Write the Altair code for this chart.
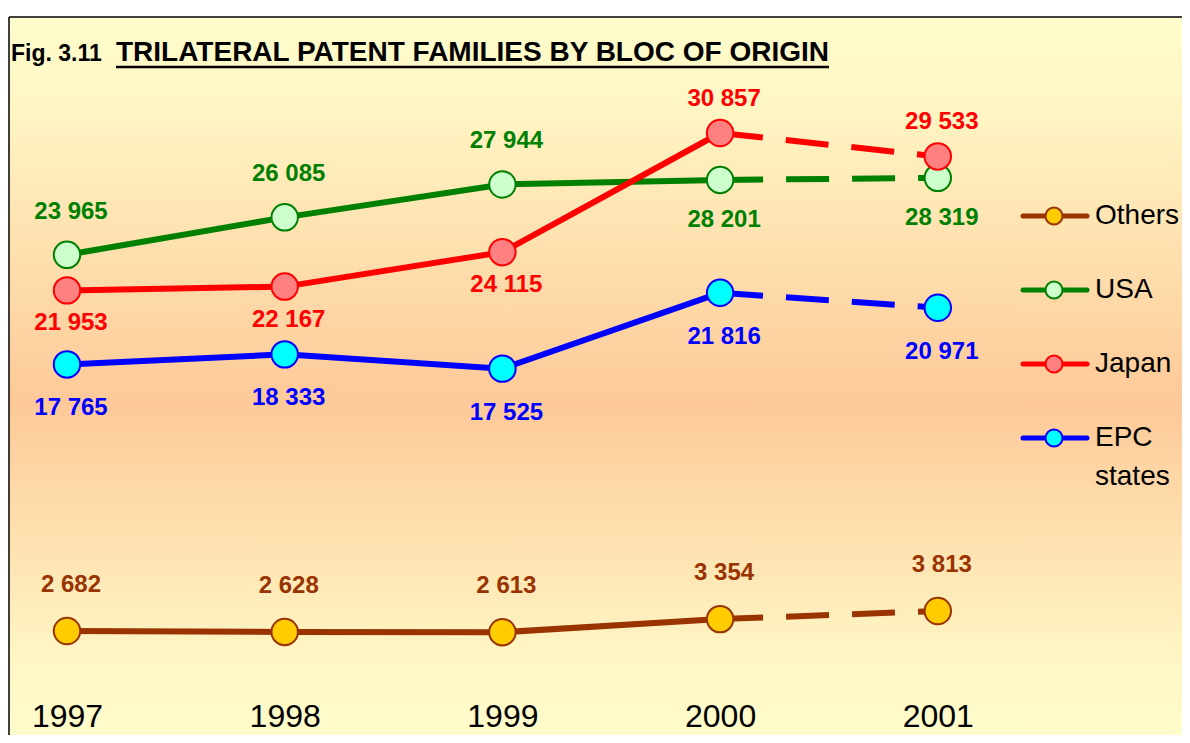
import altair as alt
import pandas as pd

# ---------------- data ----------------
years = [1997, 1998, 1999, 2000, 2001]
series = ["Others", "USA", "Japan", "EPC states"]
others = [2682, 2628, 2613, 3354, 3813]
usa = [23965, 26085, 27944, 28201, 28319]
japan = [21953, 22167, 24115, 30857, 29533]
epc = [17765, 18333, 17525, 21816, 20971]

line_colors = ["#993300", "#008000", "#FF0000", "#0000FF"]
fill_colors = ["#FFCC00", "#CCFFCC", "#FF8080", "#00FFFF"]

# label placement (True = label under the marker)
label_below = {
    "Others": [False, False, False, False, False],
    "USA": [False, False, False, True, True],
    "Japan": [True, True, True, False, False],
    "EPC states": [True, True, True, True, True],
}
# vertical label offsets in px: (series, below) -> dy
label_dy = {
    ("Others", False): -46,
    ("USA", False): -43,
    ("USA", True): 40,
    ("Japan", False): -34,
    ("Japan", True): 33,
    ("EPC states", True): 44,
}

values = {"Others": others, "USA": usa, "Japan": japan, "EPC states": epc}
rows = []
for s in series:
    for i, yr in enumerate(years):
        rows.append({"series": s, "year": yr, "value": values[s][i],
                     "below": label_below[s][i]})
df = pd.DataFrame(rows)

FONT = "Liberation Sans"
W, H = 1174, 690
BOTTOM = 37

x_scale = alt.Scale(domain=[1997 - 59 / 217.7, 1997 + (W - 59) / 217.7], nice=False, zero=False)
y_scale = alt.Scale(domain=[-1109, 37929], nice=False, zero=False)
x_axis = alt.Axis(values=years, format="d", title=None, domain=False, ticks=False,
                  grid=False, labelFontSize=32, labelFont=FONT, labelColor="black",
                  labelPadding=18, labelBaseline="middle", labelFlush=False,
                  labelOverlap=False, zindex=2)
X = alt.X("year:Q", scale=x_scale, axis=x_axis)
Y = alt.Y("value:Q", scale=y_scale, axis=None)
stroke_enc = alt.Stroke("series:N", scale=alt.Scale(domain=series, range=line_colors), legend=None)
fill_enc = alt.Fill("series:N", scale=alt.Scale(domain=series, range=fill_colors), legend=None)
color_enc = alt.Color("series:N", scale=alt.Scale(domain=series, range=line_colors), legend=None)

base = alt.Chart(df)

gradient = {
    "gradient": "linear", "x1": 0, "y1": 0, "x2": 0, "y2": 1,
    "stops": [
        {"offset": 0.0, "color": "#FFFDCC"},
        {"offset": 0.12, "color": "#FFF6C4"},
        {"offset": 0.53, "color": "#FDC998"},
        {"offset": 0.88, "color": "#FFF6C4"},
        {"offset": 1.0, "color": "#FFFDCC"},
    ],
}
one = alt.Data(values=[{"a": 1}])
bg = alt.Chart(one).mark_rect(fill=gradient).encode(
    x=alt.value(1), x2=alt.value(W + 10), y=alt.value(9), y2=alt.value(H + BOTTOM + 10))
frame_top = alt.Chart(one).mark_rule(color="black", strokeWidth=1.5).encode(
    x=alt.value(1), x2=alt.value(W + 10), y=alt.value(9))
frame_left = alt.Chart(one).mark_rule(color="black", strokeWidth=1.5).encode(
    x=alt.value(1), y=alt.value(9), y2=alt.value(H + BOTTOM + 10))

# title
title1 = alt.Chart(one).mark_text(text="Fig. 3.11", font=FONT, fontSize=23, fontWeight="bold",
                                  align="left", baseline="alphabetic", color="black").encode(
    x=alt.value(3), y=alt.value(53))
title2 = alt.Chart(one).mark_text(text="TRILATERAL PATENT FAMILIES BY BLOC OF ORIGIN", font=FONT,
                                  fontSize=28, fontWeight="bold", align="left",
                                  baseline="alphabetic", color="black").encode(
    x=alt.value(108), y=alt.value(53))
underline = alt.Chart(one).mark_rule(color="black", strokeWidth=2.5).encode(
    x=alt.value(108), x2=alt.value(821), y=alt.value(59))

solid = base.transform_filter("datum.year <= 2000").mark_line(strokeWidth=6).encode(
    x=X, y=Y, stroke=stroke_enc, detail="series:N")
dashed = base.transform_filter("datum.year >= 2000").mark_line(strokeWidth=6, strokeDash=[43, 23]).encode(
    x=X, y=Y, stroke=stroke_enc, detail="series:N")
points = base.mark_point(shape="circle", size=700, strokeWidth=2, opacity=1, fillOpacity=1).encode(
    x=X, y=Y, fill=fill_enc, stroke=stroke_enc)

label_layers = []
for (s, below), dy in label_dy.items():
    cond = "datum.series == '%s' && %s" % (s, "datum.below" if below else "!datum.below")
    label_layers.append(
        base.transform_filter(cond).transform_calculate(
            label="replace(format(datum.value, ','), ',', ' ')"
        ).mark_text(font=FONT, fontSize=24, fontWeight="bold", dx=4, dy=dy,
                    baseline="middle").encode(
            x=X, y=Y, text="label:N", color=color_enc)
    )

# legend
order_list = "[" + ",".join("'" + s + "'" for s in series) + "]"
leg = alt.Chart(pd.DataFrame({"series": series})).transform_calculate(
    ly="208 + 74 * indexof(" + order_list + ", datum.series)")
LY = alt.Y("ly:Q", scale=None)
leg_rule = leg.mark_rule(strokeWidth=5, strokeCap="round").encode(
    x=alt.value(1015), x2=alt.value(1079), y=LY, stroke=stroke_enc)
leg_pt = leg.mark_point(shape="circle", size=290, strokeWidth=2, opacity=1, fillOpacity=1).encode(
    x=alt.value(1046), y=LY, fill=fill_enc, stroke=stroke_enc)
leg_txt = leg.mark_text(font=FONT, fontSize=28, align="left", baseline="middle", color="black",
                        lineBreak=" ", lineHeight=39).encode(
    x=alt.value(1087), y=LY, text="series:N")

chart = alt.layer(
    bg, frame_top, frame_left, title1, title2, underline,
    solid, dashed, points, *label_layers, leg_rule, leg_pt, leg_txt,
).properties(
    width=W, height=H,
    autosize=alt.AutoSizeParams(type="none"),
    padding={"left": 0, "top": 0, "right": 0, "bottom": BOTTOM},
    background="white",
).configure_view(stroke=None)

chart.save("out.html", embed_options={"renderer": "svg", "actions": False})
